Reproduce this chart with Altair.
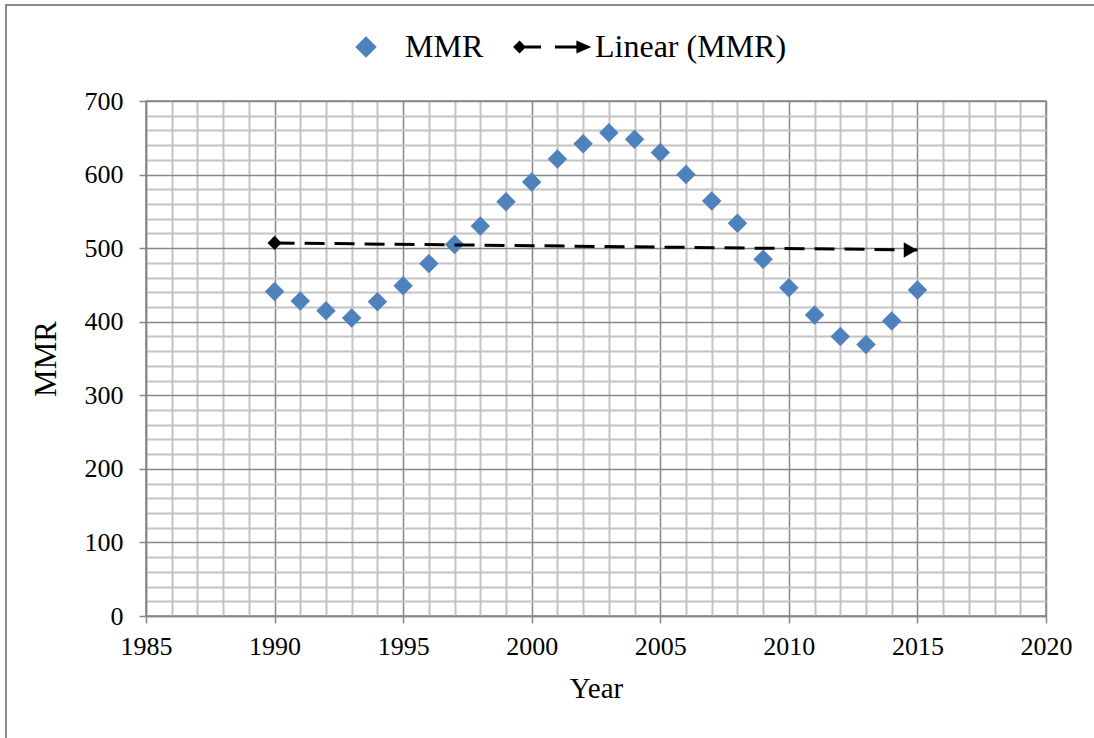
import altair as alt
import pandas as pd

# Maternal mortality ratio by year
years = [1990, 1991, 1992, 1993, 1994, 1995, 1996, 1997, 1998, 1999, 2000, 2001, 2002,
         2003, 2004, 2005, 2006, 2007, 2008, 2009, 2010, 2011, 2012, 2013, 2014, 2015]
mmr = [441, 428, 415, 405, 427, 449, 479, 505, 530, 563, 590, 621, 642,
       657, 648, 630, 600, 564, 534, 485, 446, 409, 380, 369, 401, 443]

series_names = ["MMR", "Linear (MMR)"]
series_colors = ["#4F81BD", "#000000"]

x_ticks = [1985, 1986, 1987, 1988, 1989, 1990, 1991, 1992, 1993, 1994, 1995, 1996,
           1997, 1998, 1999, 2000, 2001, 2002, 2003, 2004, 2005, 2006, 2007, 2008,
           2009, 2010, 2011, 2012, 2013, 2014, 2015, 2016, 2017, 2018, 2019, 2020]
y_ticks = [0, 20, 40, 60, 80, 100, 120, 140, 160, 180, 200, 220, 240, 260, 280, 300,
           320, 340, 360, 380, 400, 420, 440, 460, 480, 500, 520, 540, 560, 580, 600,
           620, 640, 660, 680, 700]

FONT = "Liberation Serif"
MAJOR = "#878787"
MINOR = "#c3c3c3"

# legend glyph for the trendline: diamond, dashes and an arrow head
TREND_GLYPH = ("M-4,0L-3.4,-0.6L-2.8,0L-3.4,0.6Z"
               "M-2.9,-0.15L-1.4,-0.15L-1.4,0.15L-2.9,0.15Z"
               "M-0.1,-0.15L2,-0.15L2,0.15L-0.1,0.15Z"
               "M1.9,-0.6L3.3,0L1.9,0.6Z")

df = pd.DataFrame({"Year": years, "MMR": mmr, "series": "MMR"})


def cond(test, a, b):
    return {"condition": {"test": test, "value": a}, "value": b}


major_x = "datum.value % 5 === 0"
major_y = "datum.value % 100 === 0"

x_scale = alt.Scale(domain=[1985, 2020], nice=False, zero=False)
y_scale = alt.Scale(domain=[0, 700], nice=False)

x_axis = alt.Axis(
    values=x_ticks, tickCount=100, title="Year", format="d",
    labelExpr=f"{major_x} ? datum.label : ''",
    labelOverlap=False, labelFlush=False,
    grid=True, gridColor=cond(major_x, MAJOR, MINOR), gridWidth=cond(major_x, 1.5, 2),
    tickSize=7, tickColor=cond(major_x, MAJOR, "transparent"), tickWidth=1.5,
    labelFontSize=26, labelPadding=10, titleFontSize=29, titlePadding=15,
)
y_axis = alt.Axis(
    values=y_ticks, tickCount=100, title="MMR",
    labelExpr=f"{major_y} ? datum.label : ''",
    labelOverlap=False, labelFlush=False,
    grid=True, gridColor=cond(major_y, MAJOR, MINOR), gridWidth=cond(major_y, 1.5, 2),
    tickSize=7, tickColor=cond(major_y, MAJOR, "transparent"), tickWidth=1.5,
    labelFontSize=26, labelPadding=16, titleFontSize=31, titlePadding=22,
)

X = alt.X("Year:Q", scale=x_scale, axis=x_axis)
Y = alt.Y("MMR:Q", scale=y_scale, axis=y_axis)

legend = alt.Legend(
    title=None, orient="none", legendX=204, legendY=-70, direction="horizontal",
    symbolSize=460, symbolStrokeWidth=0, labelFont=FONT, labelFontSize=32,
    labelColor="black", labelOffset=23, labelLimit=0, columnPadding=29, padding=0,
)

points = alt.Chart(df).mark_point(filled=True, size=380, opacity=1).encode(
    x=X, y=Y,
    color=alt.Color("series:N", scale=alt.Scale(domain=series_names, range=series_colors), legend=legend),
    shape=alt.Shape("series:N", scale=alt.Scale(domain=series_names, range=["diamond", TREND_GLYPH]), legend=legend),
)

trend = alt.Chart(df).transform_regression("Year", "MMR", extent=[1990, 2015])
trend_line = trend.mark_line(color="black", strokeWidth=3, strokeDash=[20, 10]).encode(x=X, y=Y)
trend_start = trend.transform_filter("datum.Year < 1990.5").mark_point(
    shape="diamond", filled=True, size=200, color="black", opacity=1
).encode(x=X, y=Y)
trend_end = trend.transform_filter("datum.Year > 2014.5").mark_point(
    shape="triangle-right", filled=True, size=240, color="black", opacity=1, xOffset=-7
).encode(x=X, y=Y)

# chart-area frame (left and top edges)
one = pd.DataFrame({"k": [0]})
frame_left = alt.Chart(one).mark_rule(color="#8c8c8c", strokeWidth=2).encode(
    x=alt.value(-140), y=alt.value(-96), y2=alt.value(640)
)
frame_top = alt.Chart(one).mark_rule(color="#8c8c8c", strokeWidth=2).encode(
    x=alt.value(-141), x2=alt.value(960), y=alt.value(-96)
)

chart = alt.layer(points, trend_line, trend_start, trend_end, frame_left, frame_top).properties(
    width=900, height=515,
    autosize=alt.AutoSizeParams(type="none"),
    padding={"left": 146, "top": 101, "right": 48, "bottom": 122},
    background="white",
).configure(font=FONT).configure_axis(
    labelFont=FONT, titleFont=FONT, labelColor="black", titleColor="black",
    titleFontWeight="normal", domainColor=MAJOR, domainWidth=1.5,
).configure_view(stroke=MAJOR, strokeWidth=1.5)

chart.save("out.html", embed_options={"renderer": "svg", "actions": False})
